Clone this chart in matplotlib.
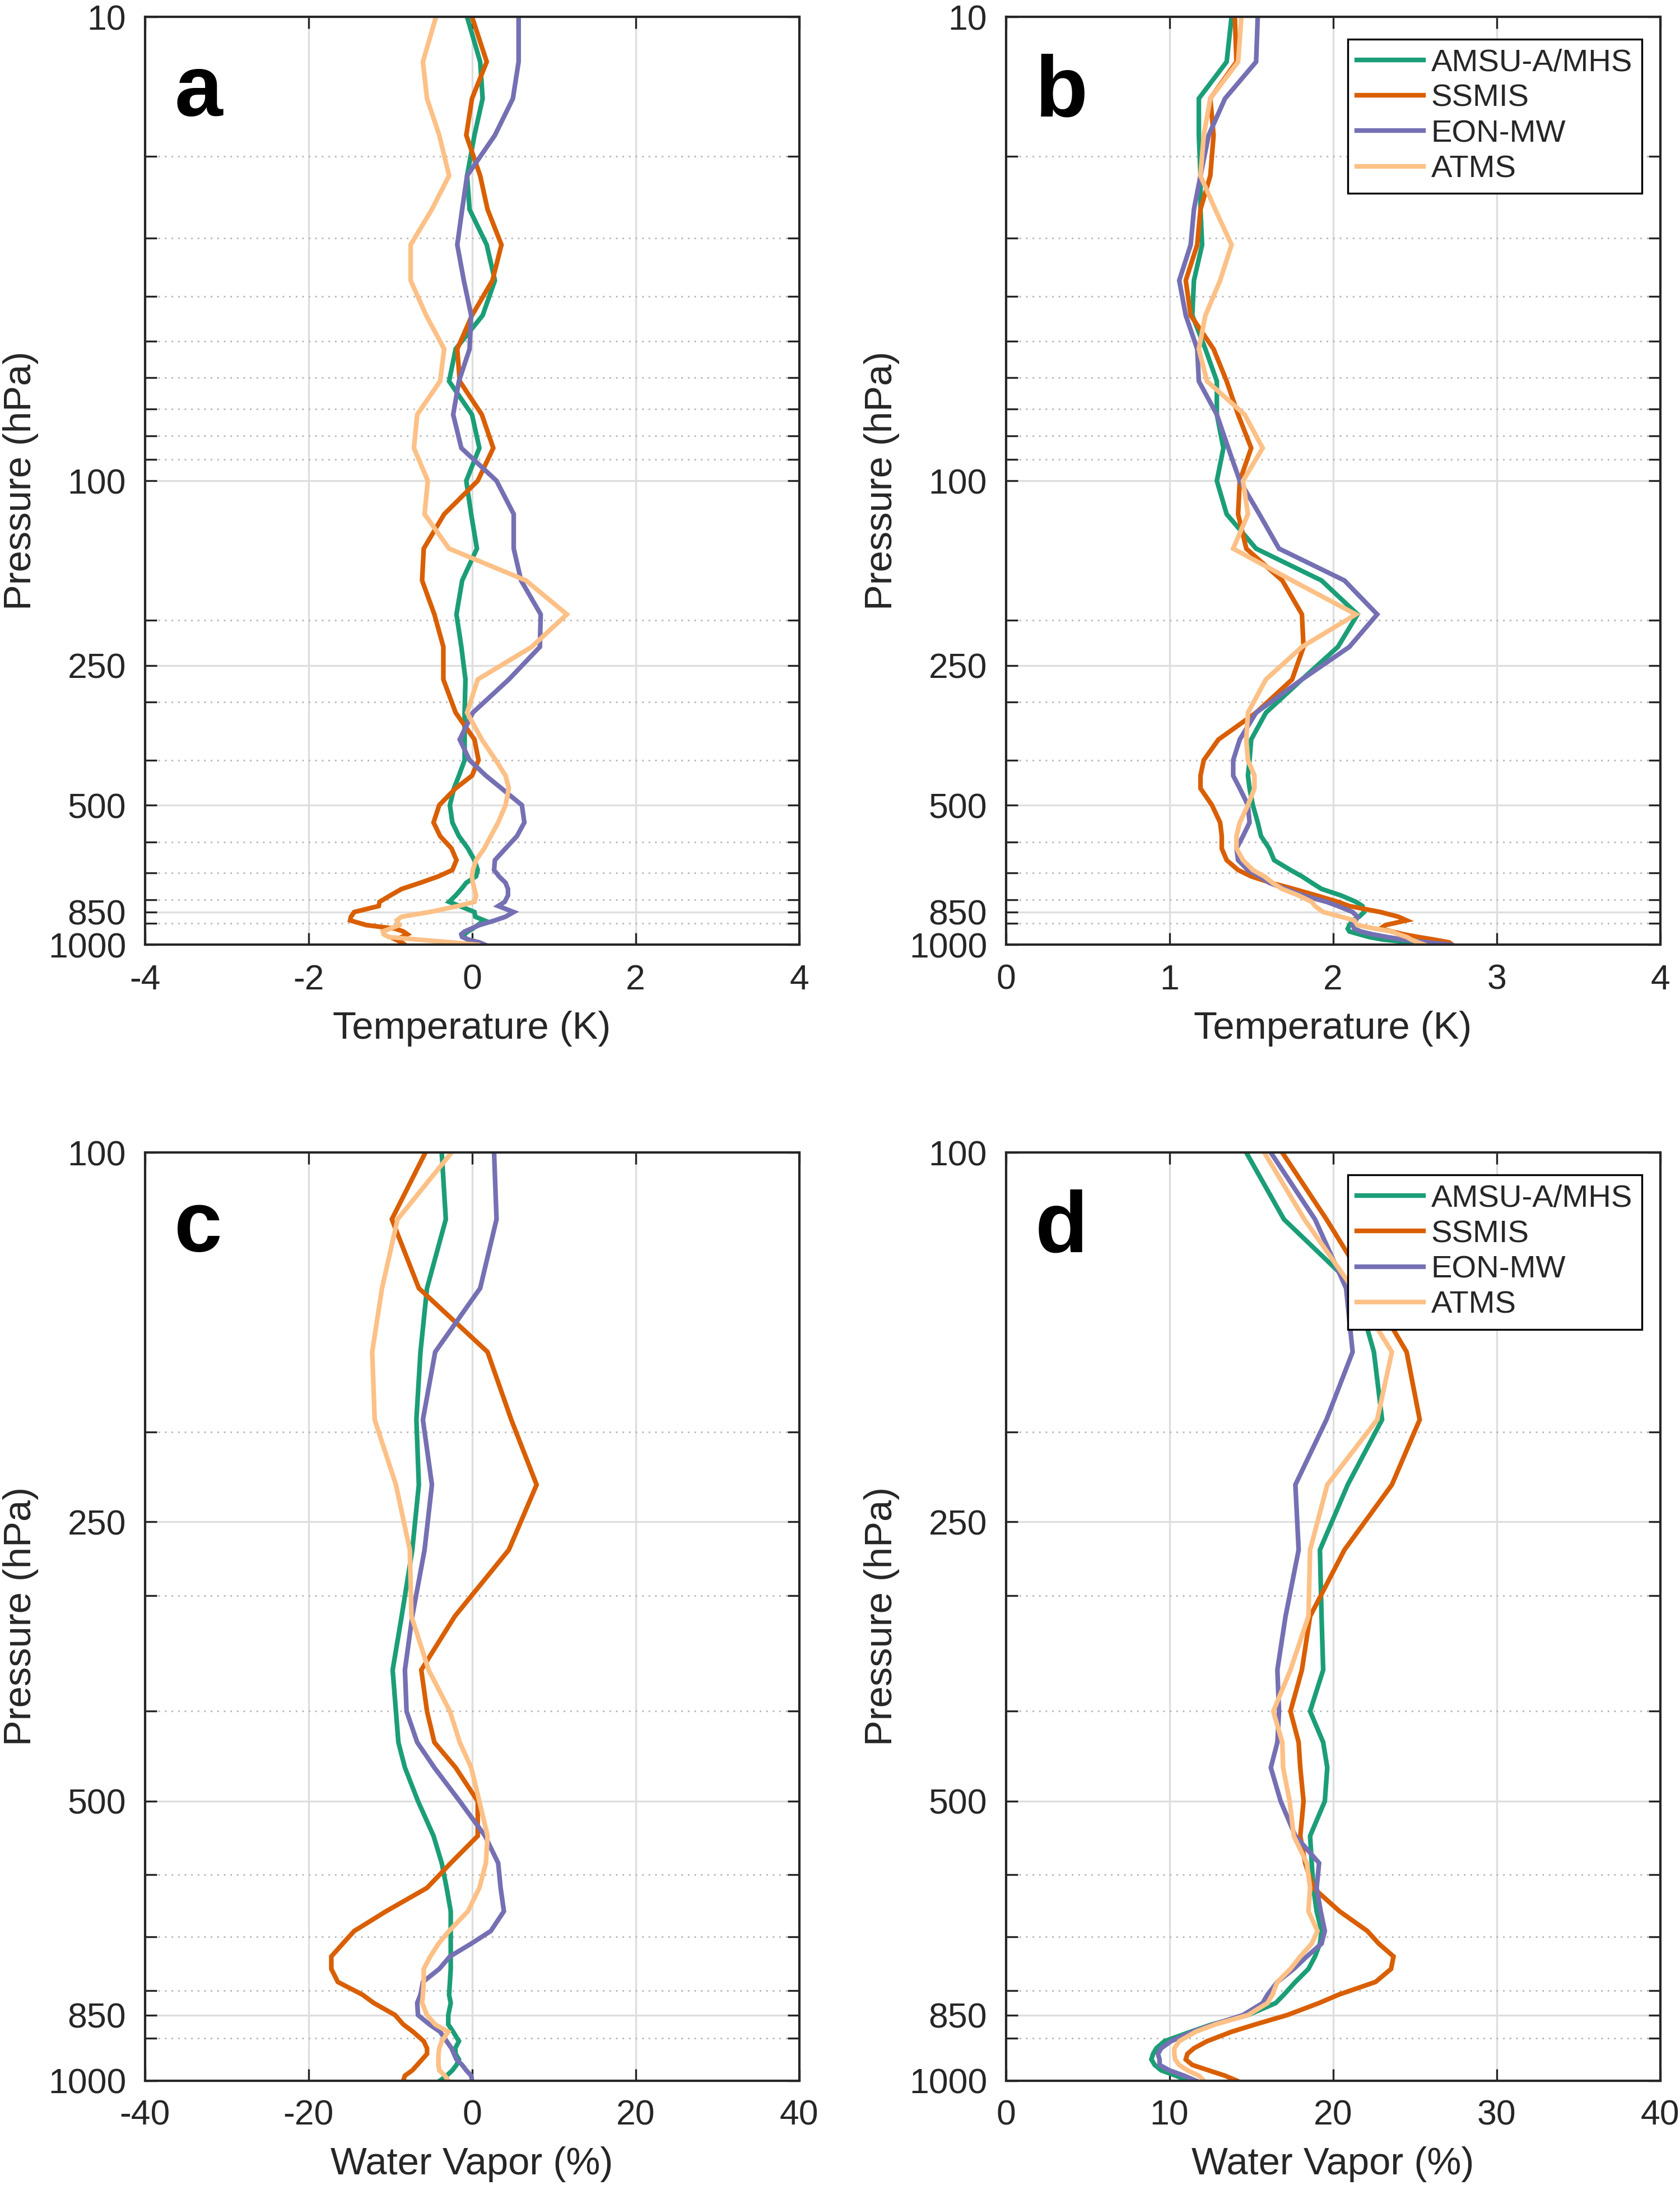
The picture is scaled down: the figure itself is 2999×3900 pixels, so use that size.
import matplotlib
matplotlib.use("Agg")
import matplotlib.pyplot as plt
from matplotlib.ticker import FixedLocator, NullFormatter

plt.rcParams['font.family'] = ['Liberation Sans', 'DejaVu Sans']
plt.rcParams['axes.unicode_minus'] = False

# pressure levels (hPa)
p_temp = [10, 12.5, 15, 18, 22, 26, 31, 37, 44, 52, 61, 72, 85, 100, 118, 140,
          164, 194, 228, 268, 316, 361, 400, 432, 460, 500, 545, 583, 620, 657,
          690, 712, 735, 758, 783, 808, 825, 850, 870, 886, 907, 923, 936, 949,
          962, 975, 988, 1000]
p_wv = p_temp[13:]

# panel a: temperature mean (K)
t_mean_amsu = [-0.06, 0.10, 0.13, 0.03, -0.06, -0.03, 0.18, 0.28, 0.13, -0.20, -0.28,
               0.0, 0.09, -0.07, -0.01, 0.06, -0.12, -0.19, -0.13, -0.08, -0.09, -0.09,
               -0.09, -0.16, -0.22, -0.27, -0.24, -0.16, -0.05, 0.03, 0.07, 0.05, -0.07,
               -0.13, -0.20, -0.28, -0.15, 0.03, 0.04, 0.15, 0.07, 0.01, -0.05, -0.09,
               -0.10, -0.05, -0.01, 0.01]
t_mean_ssmis = [0.0, 0.18, 0.0, -0.07, 0.10, 0.19, 0.36, 0.25, 0.0, -0.18, -0.15,
                0.12, 0.26, 0.07, -0.34, -0.59, -0.61, -0.46, -0.35, -0.35, -0.20, 0.03,
                0.08, 0.0, -0.20, -0.40, -0.47, -0.39, -0.25, -0.19, -0.24, -0.41, -0.63,
                -0.86, -1.0, -1.13, -1.14, -1.44, -1.48, -1.49, -1.29, -0.94, -0.84, -0.79,
                -0.86, -0.93, -0.86, -0.82]
t_mean_eon = [0.57, 0.57, 0.50, 0.28, -0.06, -0.12, -0.18, -0.10, -0.01, -0.03, -0.16,
              -0.23, -0.13, 0.30, 0.51, 0.51, 0.60, 0.84, 0.83, 0.45, 0.01, -0.15,
              -0.03, 0.17, 0.36, 0.61, 0.64, 0.55, 0.41, 0.28, 0.27, 0.33, 0.41,
              0.44, 0.44, 0.40, 0.32, 0.51, 0.41, 0.28, 0.09, -0.01, -0.09, -0.13,
              -0.12, -0.04, 0.09, 0.16]
t_mean_atms = [-0.44, -0.60, -0.55, -0.40, -0.28, -0.49, -0.75, -0.75, -0.56, -0.34, -0.39,
               -0.67, -0.71, -0.54, -0.58, -0.28, 0.66, 1.16, 0.73, 0.07, -0.06, 0.12,
               0.29, 0.41, 0.45, 0.41, 0.32, 0.23, 0.15, 0.05, 0.01, 0.0, 0.01,
               0.03, 0.05, 0.03, -0.17, -0.52, -0.86, -0.92, -0.89, -1.0, -1.09, -1.08,
               -1.02, -0.65, -0.25, 0.07]

# panel b: temperature std (K)
t_std_amsu = [1.38, 1.35, 1.18, 1.18, 1.19, 1.19, 1.20, 1.15, 1.14, 1.22, 1.29,
              1.29, 1.33, 1.29, 1.35, 1.53, 1.93, 2.15, 2.03, 1.81, 1.59, 1.50,
              1.49, 1.48, 1.49, 1.51, 1.54, 1.56, 1.61, 1.64, 1.74, 1.81, 1.87,
              1.93, 2.05, 2.14, 2.18, 2.19, 2.16, 2.12, 2.10, 2.09, 2.10, 2.16,
              2.22, 2.31, 2.48, 2.58]
t_std_ssmis = [1.40, 1.41, 1.25, 1.27, 1.25, 1.19, 1.17, 1.10, 1.13, 1.27, 1.35,
               1.42, 1.50, 1.43, 1.42, 1.47, 1.69, 1.81, 1.82, 1.75, 1.53, 1.30,
               1.21, 1.19, 1.19, 1.26, 1.31, 1.32, 1.32, 1.35, 1.42, 1.50, 1.62,
               1.76, 1.90, 2.03, 2.10, 2.29, 2.40, 2.45, 2.32, 2.29, 2.36, 2.43,
               2.52, 2.62, 2.71, 2.73]
t_std_eon = [1.54, 1.53, 1.34, 1.24, 1.19, 1.15, 1.13, 1.06, 1.10, 1.17, 1.18,
             1.29, 1.36, 1.43, 1.55, 1.67, 2.07, 2.27, 2.10, 1.81, 1.53, 1.43,
             1.39, 1.39, 1.43, 1.48, 1.49, 1.45, 1.41, 1.42, 1.48, 1.55, 1.61,
             1.71, 1.82, 1.96, 2.03, 2.12, 2.15, 2.14, 2.12, 2.13, 2.17, 2.24,
             2.33, 2.43, 2.58, 2.72]
t_std_atms = [1.44, 1.42, 1.25, 1.21, 1.19, 1.28, 1.38, 1.31, 1.22, 1.18, 1.23,
              1.46, 1.57, 1.45, 1.48, 1.39, 1.75, 2.14, 1.81, 1.59, 1.48, 1.47,
              1.48, 1.52, 1.52, 1.48, 1.43, 1.41, 1.41, 1.45, 1.51, 1.58, 1.63,
              1.69, 1.79, 1.87, 1.89, 1.94, 2.05, 2.13, 2.15, 2.26, 2.36, 2.40,
              2.45, 2.48, 2.52, 2.56]

# panel c: water vapor mean (%)
q_mean_amsu = [-3.7, -3.2, -5.5, -6.3, -6.8, -6.5, -7.3, -8.6, -9.7, -9.3, -9.0,
               -8.2, -6.6, -4.7, -3.7, -3.1, -2.6, -2.6, -2.6, -2.6, -2.6, -2.7,
               -2.8, -2.6, -2.9, -2.9, -2.3, -1.6, -2.05, -2.0, -1.6, -1.9, -2.4,
               -3.1, -3.9]
q_mean_ssmis = [-5.7, -9.8, -6.5, 1.9, 4.8, 7.9, 4.5, -2.1, -6.2, -5.5, -4.6,
                -2.0, 0.7, 0.7, -2.6, -5.5, -10.5, -14.4, -15.8, -17.2, -17.2, -16.4,
                -13.4, -12.0, -9.4, -8.4, -7.2, -5.9, -5.5, -5.5, -6.1, -6.7, -7.3,
                -8.2, -8.4]
q_mean_eon = [2.7, 3.0, 1.0, -4.5, -6.0, -4.9, -5.8, -7.3, -8.2, -8.0, -6.7,
              -4.6, -1.5, 1.6, 3.2, 3.5, 3.9, 2.3, -0.1, -2.7, -4.0, -6.0,
              -6.3, -6.7, -6.6, -5.2, -3.9, -3.1, -2.5, -2.2, -1.9, -1.2, -0.7,
              -0.1, 0.0]
q_mean_atms = [-2.5, -9.1, -11.0, -12.2, -11.9, -9.3, -7.6, -7.4, -5.3, -2.7, -1.5,
               -0.1, 0.9, 1.9, 1.7, 0.9, -0.5, -2.8, -4.1, -5.1, -5.9, -5.9,
               -6.0, -6.1, -5.5, -4.5, -2.9, -3.7, -4.0, -4.1, -4.1, -4.1, -4.0,
               -3.3, -2.9]

# panel d: water vapor std (%)
q_std_amsu = [14.7, 17.0, 21.4, 22.5, 23.0, 20.9, 19.2, 19.3, 19.4, 18.6, 19.4,
              19.65, 19.5, 18.6, 18.7, 18.8, 19.0, 19.3, 19.2, 18.9, 18.5, 17.7,
              17.0, 16.5, 14.8, 12.6, 11.3, 9.7, 9.2, 9.0, 8.9, 9.1, 9.5,
              10.4, 11.1]
q_std_ssmis = [16.9, 19.6, 22.2, 24.5, 25.3, 23.6, 20.7, 18.6, 18.1, 17.4, 17.9,
               18.0, 18.2, 18.0, 18.3, 18.8, 20.4, 22.1, 22.8, 23.7, 23.55, 22.6,
               20.35, 19.15, 17.2, 15.25, 13.8, 12.3, 11.5, 11.1, 11.0, 11.4, 12.4,
               13.4, 14.1]
q_std_eon = [16.2, 18.9, 20.8, 21.2, 19.6, 17.7, 17.9, 17.1, 16.6, 16.7, 16.6,
             16.2, 16.8, 17.7, 19.15, 19.0, 19.25, 19.5, 19.3, 18.4, 17.6, 16.6,
             16.0, 15.7, 14.5, 12.7, 11.4, 10.1, 9.5, 9.3, 9.4, 9.4, 10.0,
             10.9, 11.6]
q_std_atms = [15.8, 18.25, 21.2, 23.6, 22.7, 19.65, 18.6, 18.5, 17.4, 16.35, 16.9,
              16.95, 17.35, 17.6, 18.4, 18.6, 18.5, 19.05, 18.7, 18.0, 17.4, 16.6,
              16.3, 16.0, 14.8, 12.8, 11.6, 10.6, 10.3, 10.3, 10.35, 10.6, 11.1,
              11.8, 12.1]

labels = ['AMSU-A/MHS', 'SSMIS', 'EON-MW', 'ATMS']
colors = ['#1b9e77', '#d95f02', '#7570b3', '#fdc086']
axis_color = '#262626'

fig = plt.figure(figsize=(2999 / 300, 3900 / 300), dpi=300)
ax_w, ax_h = 0.3895, 0.4247
axes = {
    'a': fig.add_axes([0.0862, 0.5676, ax_w, ax_h]),
    'b': fig.add_axes([0.5987, 0.5676, ax_w, ax_h]),
    'c': fig.add_axes([0.0862, 0.0478, ax_w, ax_h]),
    'd': fig.add_axes([0.5987, 0.0478, ax_w, ax_h]),
}

panels = [
    ('a', p_temp, [t_mean_amsu, t_mean_ssmis, t_mean_eon, t_mean_atms],
     (-4, 4), [-4, -2, 0, 2, 4], 'Temperature (K)', False),
    ('b', p_temp, [t_std_amsu, t_std_ssmis, t_std_eon, t_std_atms],
     (0, 4), [0, 1, 2, 3, 4], 'Temperature (K)', True),
    ('c', p_wv, [q_mean_amsu, q_mean_ssmis, q_mean_eon, q_mean_atms],
     (-40, 40), [-40, -20, 0, 20, 40], 'Water Vapor (%)', False),
    ('d', p_wv, [q_std_amsu, q_std_ssmis, q_std_eon, q_std_atms],
     (0, 40), [0, 10, 20, 30, 40], 'Water Vapor (%)', True),
]

for letter, levels, series, xlim, xticks, xlabel, legend in panels:
    ax = axes[letter]
    for vals, lab, col in zip(series, labels, colors):
        ax.plot(vals, levels, color=col, lw=2.0, label=lab, solid_joinstyle='miter')

    ax.set_yscale('log')
    top = levels[0]
    ax.set_ylim(1000, top)
    ax.set_xlim(*xlim)
    ax.set_xticks(xticks)
    ax.set_xticklabels([str(t) for t in xticks])

    major = [v for v in [10, 100, 250, 500, 850, 1000] if v >= top]
    minor = [v for v in [20, 30, 40, 50, 60, 70, 80, 90, 200, 300, 400, 600, 700, 800, 900]
             if v > top]
    ax.yaxis.set_major_locator(FixedLocator(major))
    ax.set_yticklabels([str(v) for v in major])
    ax.yaxis.set_minor_locator(FixedLocator(minor))
    ax.yaxis.set_minor_formatter(NullFormatter())

    ax.grid(True, which='major', color='#dedede', lw=0.8, ls='-')
    ax.grid(True, which='minor', axis='y', color='#b8b8b8', lw=0.7, ls=(0, (1, 3)))
    ax.set_axisbelow(True)

    ax.tick_params(which='both', direction='in', top=True, right=True,
                   length=5, width=0.8, color=axis_color, labelcolor=axis_color,
                   labelsize=15)
    ax.tick_params(axis='x', pad=8)
    ax.tick_params(axis='y', pad=8)
    for sp in ax.spines.values():
        sp.set_color(axis_color)
        sp.set_linewidth(1.0)

    ax.set_xlabel(xlabel, fontsize=16.5, color=axis_color, labelpad=6)
    ax.set_ylabel('Pressure (hPa)', fontsize=16.5, color=axis_color, labelpad=4)

    ax.text(0.045, 0.893, letter, transform=ax.transAxes, fontsize=37,
            fontweight='bold', va='baseline', ha='left', color='black')

    if legend:
        leg = ax.legend(loc='upper right', bbox_to_anchor=(0.972, 0.976),
                        borderaxespad=0, fontsize=13.5, frameon=True, fancybox=False,
                        framealpha=1, edgecolor='black', handlelength=2.1,
                        handletextpad=0.25, labelspacing=0.2, borderpad=0.3)
        leg.get_frame().set_linewidth(0.8)
        for txt in leg.get_texts():
            txt.set_color(axis_color)

fig.savefig('out.png', dpi=300, facecolor='white')
